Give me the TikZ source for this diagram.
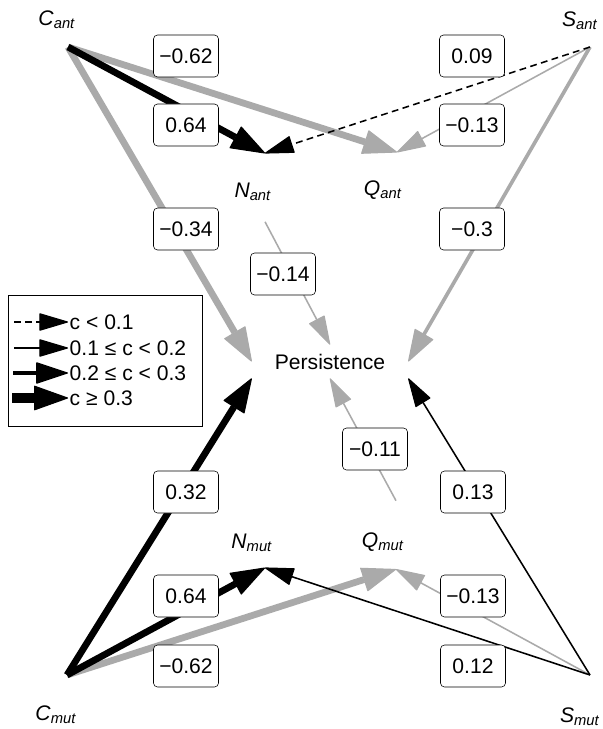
\documentclass[tikz,border=0pt]{standalone}
\usepackage{fontspec}
\setmainfont{Liberation Sans}
\usetikzlibrary{arrows.meta}
\definecolor{edgegray}{RGB}{170,170,170}

\begin{document}
\begin{tikzpicture}[
x=0.025cm, y=-0.025cm,
every node/.style={font=\fontsize{15}{18}\selectfont},
hub/.style={inner sep=0pt, minimum width=1mm, minimum height=17mm},
coef/.style={draw, fill=white, rounded corners=1mm, inner sep=0pt, minimum width=16.25mm, minimum height=10.5mm},
neg/.style={edgegray},
cdash/.style={line width=1.1pt, dash pattern=on 1.7mm off 1.1mm, -{Triangle[length=7.5mm,width=4.4mm,line width=0.8pt,round]}},
cthin/.style={line width=1.1pt, -{Triangle[length=7.5mm,width=4.4mm,line width=0.8pt,round]}},
cmid/.style={line width=2.6pt, -{Triangle[length=8.25mm,width=5.4mm,line width=0.8pt,round]}},
cthick/.style={line width=4.8pt, -{Triangle[length=8.75mm,width=6.2mm,line width=0.8pt,round]}}
]
\useasboundingbox (0,0) rectangle (603,729);

% sources
\coordinate (cant) at (68,47);
\coordinate (sant) at (590,47);
\coordinate (cmut) at (67,675);
\coordinate (smut) at (590,675);
\node (cant-t) at (57,20)  {\textit{C}\textsubscript{\textit{ant}}};
\node (sant-t) at (580,21) {\textit{S}\textsubscript{\textit{ant}}};
\node (cmut-t) at (56,715) {\textit{C}\textsubscript{\textit{mut}}};
\node (smut-t) at (580,717) {\textit{S}\textsubscript{\textit{mut}}};

% mediators
\node (nant) [hub] at (265,187.5) {};
\node (qant) [hub] at (397,186.5) {};
\node (nmut) [hub] at (265,533.5) {};
\node (qmut) [hub] at (396,535) {};
\node (nant-t) at (253,192) {\textit{N}\textsubscript{\textit{ant}}};
\node (qant-t) at (383,190) {\textit{Q}\textsubscript{\textit{ant}}};
\node (nmut-t) at (252,543) {\textit{N}\textsubscript{\textit{mut}}};
\node (qmut-t) at (383,542) {\textit{Q}\textsubscript{\textit{mut}}};

\node (pers) [inner sep=0pt, minimum width=39mm, minimum height=8.3mm] at (330,361.5) {Persistence};

% negative paths
\draw[neg, cthick] (cant) -- (qant.north);
\draw[neg, cthick] (cant) -- (pers.west);
\draw[neg, cthin]  (sant) -- (qant.north);
\draw[neg, cmid]   (sant) -- (pers.east);
\draw[neg, cthin]  (nant.south) -- (pers.north);
\draw[neg, cthin]  (qmut.north) -- (pers.south);
\draw[neg, cthick] (cmut) -- (qmut.south);
\draw[neg, cthin]  (smut) -- (qmut.south);

% positive paths
\draw[cthick] (cant) -- (nant.north);
\draw[cdash]  (sant) -- (nant.north);
\draw[cthick] (cmut) -- (pers.south west);
\draw[cthin]  (smut) -- (pers.south east);
\draw[cthick] (cmut) -- (nmut.south);
\draw[cthin]  (smut) -- (nmut.south);

% coefficients
\node (k1)  [coef] at (186,56)  {−0.62};
\node (k2)  [coef] at (186,125) {0.64};
\node (k3)  [coef] at (186,229) {−0.34};
\node (k4)  [coef] at (472,56)  {0.09};
\node (k5)  [coef] at (472,125) {−0.13};
\node (k6)  [coef] at (472,229) {−0.3};
\node (k7)  [coef] at (283,274) {−0.14};
\node (k8)  [coef] at (375,449) {−0.11};
\node (k9)  [coef] at (186,492) {0.32};
\node (k10) [coef] at (473,492) {0.13};
\node (k11) [coef] at (186,596) {0.64};
\node (k12) [coef] at (473,596) {−0.13};
\node (k13) [coef] at (186,666) {−0.62};
\node (k14) [coef] at (473,666) {0.12};

% legend
\node (leg) [draw, inner sep=0pt, minimum width=48.5mm, minimum height=32.75mm] at (105,360.5) {};
\coordinate (l1a) at (14,322);
\coordinate (l1b) at (68,322);
\coordinate (l2a) at (14,348);
\coordinate (l2b) at (68,348);
\coordinate (l3a) at (13,373);
\coordinate (l3b) at (68,373);
\coordinate (l4a) at (12,398);
\coordinate (l4b) at (68,398);
\draw[cdash]  (l1a) -- (l1b);
\draw[cthin]  (l2a) -- (l2b);
\draw[cmid]   (l3a) -- (l3b);
\draw[cthick, line width=6.5pt] (l4a) -- (l4b);
\node (l1) [anchor=west, inner sep=1pt] at (l1b) {c < 0.1};
\node (l2) [anchor=west, inner sep=1pt] at (l2b) {0.1 ≤ c < 0.2};
\node (l3) [anchor=west, inner sep=1pt] at (l3b) {0.2 ≤ c < 0.3};
\node (l4) [anchor=west, inner sep=1pt] at (l4b) {c ≥ 0.3};

\end{tikzpicture}
\end{document}
